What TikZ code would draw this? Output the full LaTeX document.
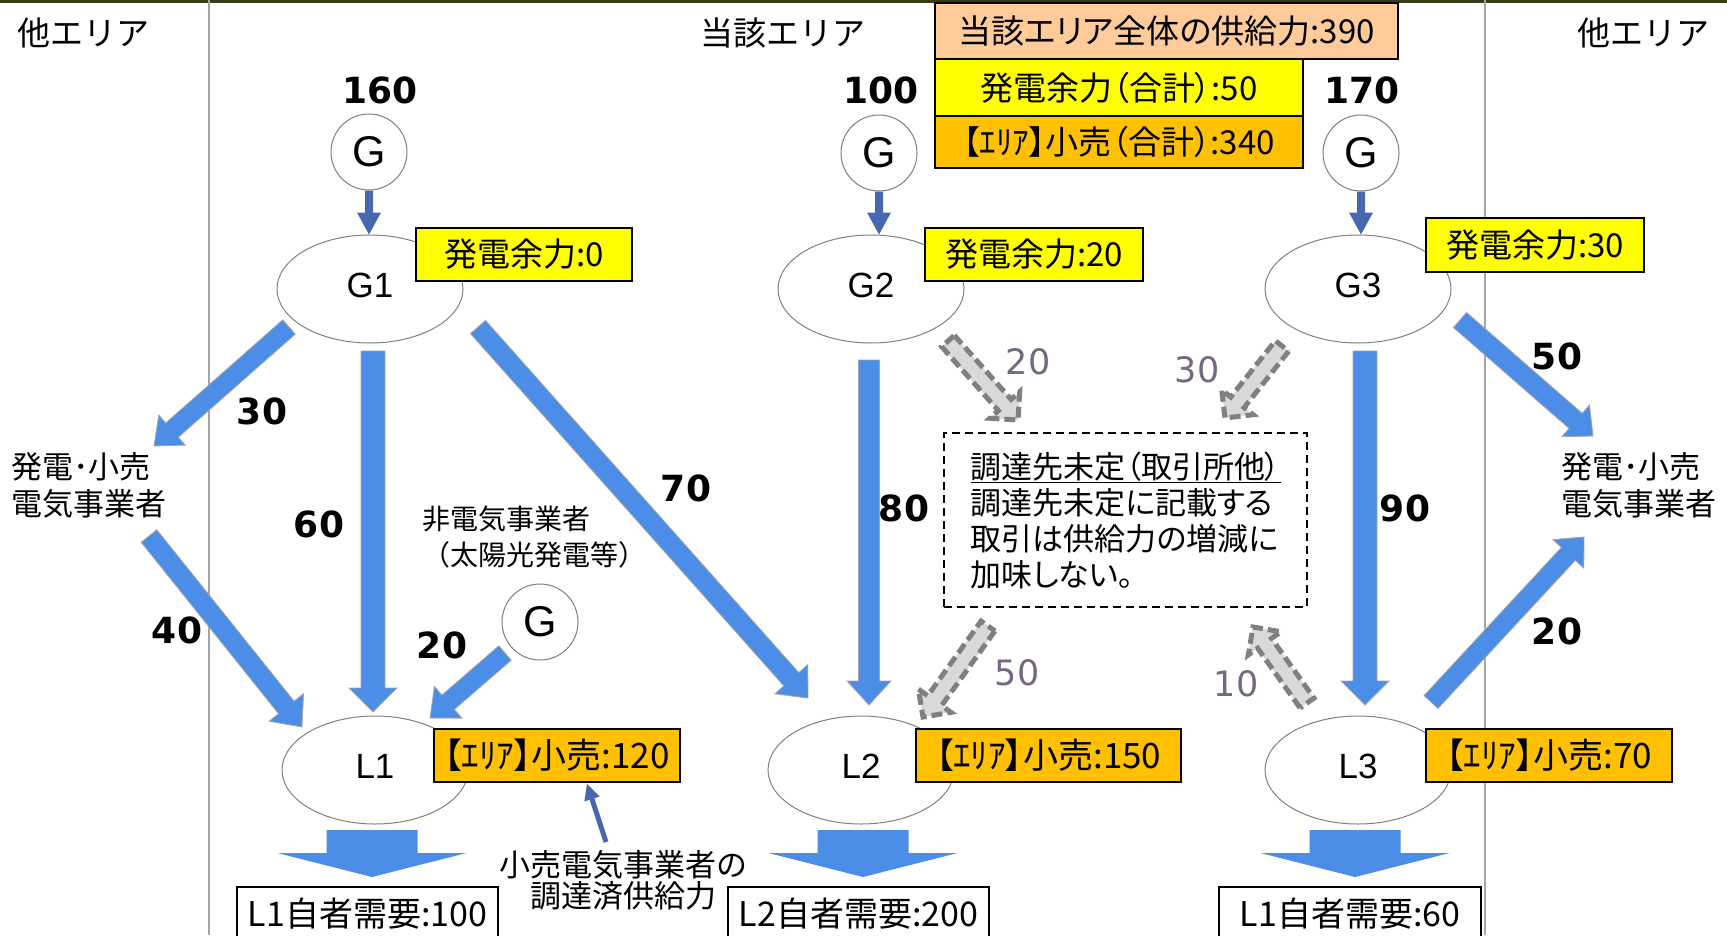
\documentclass[tikz,border=0pt]{standalone}
\usepackage{fontspec}
\setmainfont{Noto Sans CJK JP}
\newfontfamily\jpp[RawFeature=+palt]{Noto Sans CJK JP}
\newfontfamily\lat{Liberation Sans}
\newfontfamily\djv{DejaVu Sans}
\usetikzlibrary{calc,shapes.geometric}
\definecolor{fatblue}{RGB}{76,141,232}
\definecolor{darkblue}{RGB}{71,104,176}
\definecolor{peach}{RGB}{255,204,153}
\definecolor{orng}{RGB}{255,192,0}
\definecolor{ylw}{RGB}{255,255,0}
\definecolor{grayfill}{RGB}{217,217,217}
\definecolor{grayedge}{RGB}{128,128,128}
\definecolor{graynum}{RGB}{118,104,128}
\definecolor{sepcol}{RGB}{165,165,165}
\definecolor{topline}{RGB}{60,60,20}
\newcommand\fs[2]{\fontsize{#1}{#2}\selectfont}
% fat arrow polygon between two named points: [style]{start}{tip}{shaft w}{head w}{head l}
\newcommand\fatarrow[6][]{%
  \draw[#1] let \p1=(#2), \p2=(#3),
    \n1={atan2(\y2-\y1,\x2-\x1)},
    \n2={veclen(\x2-\x1,\y2-\y1)-#6} in
    ($(\p1)+({\n1+90}:{#4/2*1pt})$) --
    ($(\p1)+({\n1}:{\n2*1pt})+({\n1+90}:{#4/2*1pt})$) --
    ($(\p1)+({\n1}:{\n2*1pt})+({\n1+90}:{#5/2*1pt})$) --
    (\p2) --
    ($(\p1)+({\n1}:{\n2*1pt})+({\n1-90}:{#5/2*1pt})$) --
    ($(\p1)+({\n1}:{\n2*1pt})+({\n1-90}:{#4/2*1pt})$) --
    ($(\p1)+({\n1-90}:{#4/2*1pt})$) -- cycle;}
\tikzset{
  fatb/.style={fill=fatblue, draw=grayedge!70, line width=0.8pt, line join=miter},
  demandarr/.style={fill=fatblue, draw=none},
  smallb/.style={fill=darkblue, draw=none},
  grayarr/.style={fill=grayfill, draw=grayedge, line width=5pt, dash pattern=on 11pt off 5pt, line join=miter},
  ell/.style={ellipse, draw=grayedge, line width=1pt, minimum width=186pt, minimum height=108pt, inner sep=0pt, text height=25pt, text depth=8pt, font=\lat\fs{35}{35}},
  gc/.style={circle, draw=grayedge, line width=1pt, minimum size=76pt, inner sep=0pt, font=\lat\fs{43}{43}},
  infobox/.style={draw=black, line width=1.5pt, inner sep=0pt, font=\jpp\fs{33}{33}},
  demandbox/.style={draw=black, line width=1.5pt, inner sep=0pt, fill=white, font=\fs{34}{34}},
  num/.style={font=\djv\bfseries\fs{36}{36}, inner sep=0pt},
  gnum/.style={font=\djv\fs{35}{35}, text=graynum, inner sep=0pt},
  lbl/.style={inner sep=0pt, align=left, font=\fs{31}{37}},
  area/.style={inner sep=0pt, font=\fs{33}{33}},
}
\begin{document}
\begin{tikzpicture}[x=1pt,y=-1pt]
\useasboundingbox (0,0) rectangle (1727,935);
\clip (0,0) rectangle (1727,935);
\fill[white] (0,0) rectangle (1727,935);
% frame lines
\fill[topline] (0,0) rectangle (1727,2.5);
\draw[sepcol, line width=1.5pt] (209,0) -- (209,935);
\draw[sepcol, line width=1.5pt] (1485,0) -- (1485,935);

% area titles
\node[area] (oth1) at (83,33) {他エリア};
\node[area] (here) at (783,33) {当該エリア};
\node[area] (oth2) at (1643,33) {他エリア};

% generators and demand ellipses
\node[gc] (g1) at (369,152) {G};
\node[gc] (g2) at (879,153) {G};
\node[gc] (g3) at (1361,153) {G};
\node[gc] (g4) at (540,622) {G};
\node[ell] (G1) at (370,289) {G1};
\node[ell] (G2) at (871,289) {G2};
\node[ell] (G3) at (1358,289) {G3};
\node[ell] (L1) at (375,770) {L1};
\node[ell] (L2) at (861,770) {L2};
\node[ell] (L3) at (1358,770) {L3};

% numbers above generators
\node[num] (n160) at (380,90) {160};
\node[num] (n100) at (881,90) {100};
\node[num] (n170) at (1362,90) {170};

% side labels
\node[lbl, anchor=west] (lft) at (11,485) {発電･小売\\電気事業者};
\node[lbl, anchor=west] (rgt) at (1561,485) {発電･小売\\電気事業者};
\node[inner sep=0pt, align=left, font=\fs{28}{36}, anchor=west] (nonel) at (422,537.5) {非電気事業者\\（太陽光発電等）};

% small generator arrows
\fatarrow[smallb]{g1.south}{g1.south |- G1.north}{8}{24}{22}
\fatarrow[smallb]{g2.south}{g2.south |- G2.north}{8}{24}{22}
\fatarrow[smallb]{g3.south}{g3.south |- G3.north}{8}{24}{22}

% big flow arrows
\coordinate (a30s) at (289,327); \coordinate (a30t) at (154,446);
\coordinate (a60s) at (373,351); \coordinate (a60t) at (373,712);
\coordinate (a70s) at (478,327); \coordinate (a70t) at (808,698);
\coordinate (a40s) at (149,536); \coordinate (a40t) at (302,727);
\coordinate (a20s) at (505,653); \coordinate (a20t) at (430,718);
\coordinate (a80s) at (869,360); \coordinate (a80t) at (869,705);
\coordinate (a90s) at (1365,351); \coordinate (a90t) at (1365,705);
\coordinate (a50s) at (1460,320); \coordinate (a50t) at (1593,436);
\coordinate (b20s) at (1431,702); \coordinate (b20t) at (1584,537);
\fatarrow[fatb]{a30s}{a30t}{19}{40}{24}
\fatarrow[fatb]{a60s}{a60t}{24}{48}{24}
\fatarrow[fatb]{a70s}{a70t}{20}{44}{25}
\fatarrow[fatb]{a40s}{a40t}{20}{44}{25}
\fatarrow[fatb]{a20s}{a20t}{19}{42}{24}
\fatarrow[fatb]{a80s}{a80t}{21}{44}{24}
\fatarrow[fatb]{a90s}{a90t}{24}{48}{24}
\fatarrow[fatb]{a50s}{a50t}{20}{42}{23}
\fatarrow[fatb]{b20s}{b20t}{19}{42}{23}

% gray dashed arrows
\coordinate (g20s) at (948,341); \coordinate (g20t) at (1018,420);
\coordinate (g30s) at (1282,346); \coordinate (g30t) at (1225,418);
\coordinate (g50s) at (988,626); \coordinate (g50t) at (923,717);
\coordinate (g10s) at (1307,703); \coordinate (g10t) at (1253,627);
\fatarrow[grayarr]{g20s}{g20t}{17}{40}{20}
\fatarrow[grayarr]{g30s}{g30t}{17}{40}{20}
\fatarrow[grayarr]{g50s}{g50t}{17}{40}{20}
\fatarrow[grayarr]{g10s}{g10t}{17}{40}{20}

% demand arrows
\coordinate (d1s) at (372,830); \coordinate (d1t) at (372,877);
\coordinate (d2s) at (863,830); \coordinate (d2t) at (863,877);
\coordinate (d3s) at (1355,830); \coordinate (d3t) at (1355,877);
\fatarrow[demandarr]{d1s}{d1t}{91}{189}{24}
\fatarrow[demandarr]{d2s}{d2t}{91}{189}{24}
\fatarrow[demandarr]{d3s}{d3t}{91}{189}{24}

% info boxes
\node[infobox, fill=peach, minimum width=463pt, minimum height=56pt] (tot) at (1166.5,31) {当該エリア全体の供給力:390};
\node[infobox, fill=ylw, minimum width=368pt, minimum height=57pt] (ysum) at (1119,87.5) {発電余力（合計）:50};
\node[infobox, fill=orng, minimum width=368pt, minimum height=52pt] (osum) at (1119,142) {【ｴﾘｱ】小売（合計）:340};
\node[infobox, fill=ylw, minimum width=216pt, minimum height=53pt] (y1) at (524,254.5) {発電余力:0};
\node[infobox, fill=ylw, minimum width=218pt, minimum height=53pt] (y2) at (1034,254.5) {発電余力:20};
\node[infobox, fill=ylw, minimum width=218pt, minimum height=54pt] (y3) at (1535,245) {発電余力:30};
\node[infobox, fill=orng, minimum width=246pt, minimum height=53pt, font=\jpp\fs{35}{35}] (r1) at (557,755.5) {【ｴﾘｱ】小売:120};
\node[infobox, fill=orng, minimum width=265pt, minimum height=53pt, font=\jpp\fs{35}{35}] (r2) at (1048.5,755.5) {【ｴﾘｱ】小売:150};
\node[infobox, fill=orng, minimum width=246pt, minimum height=53pt, font=\jpp\fs{35}{35}] (r3) at (1549,755.5) {【ｴﾘｱ】小売:70};

% demand boxes
\node[demandbox, minimum width=261pt, minimum height=54pt] (dem1) at (367.5,914) {L1自者需要:100};
\node[demandbox, minimum width=261pt, minimum height=54pt] (dem2) at (858.5,914) {L2自者需要:200};
\node[demandbox, minimum width=262pt, minimum height=54pt] (dem3) at (1350,914) {L1自者需要:60};

% note box
\node[draw, dash pattern=on 8pt off 5pt, line width=1.3pt, minimum width=363pt, minimum height=174pt, align=left, font=\jpp\fs{31}{36}, inner sep=0pt] (note) at (1125.5,520)
  {\underline{調達先未定（取引所他）}\\調達先未定に記載する\\取引は供給力の増減に\\加味しない。};

% annotation
\node[inner sep=0pt, align=center, font=\fs{31}{31}] (ann) at (623,880) {小売電気事業者の\\調達済供給力};
\coordinate (anns) at (606,842);
\coordinate (annt) at ($(r1.south)+(30,1)$);
\fatarrow[smallb]{anns}{annt}{5}{16}{16}

% flow numbers
\node[num] (f30) at (262,411) {30};
\node[num] (f60) at (319,524) {60};
\node[num] (f40) at (177,630) {40};
\node[num] (f20a) at (442,645) {20};
\node[num] (f70) at (686,488) {70};
\node[num] (f80) at (904,508) {80};
\node[num] (f90) at (1405,508) {90};
\node[num] (f50) at (1557,356) {50};
\node[num] (f20b) at (1557,631) {20};
\node[gnum] (u20) at (1028,362) {20};
\node[gnum] (u30) at (1197,370) {30};
\node[gnum] (u50) at (1017,673) {50};
\node[gnum] (u10) at (1236,684) {10};
\end{tikzpicture}
\end{document}
